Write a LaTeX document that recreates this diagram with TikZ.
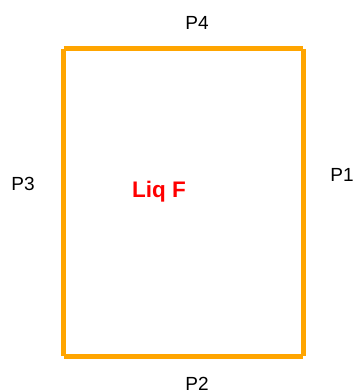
\documentclass[tikz,border=0pt]{standalone}
\usepackage{fontspec}
\setmainfont{Liberation Sans}
\definecolor{wallorange}{RGB}{255,165,0}
\definecolor{liqred}{RGB}{255,0,0}
\usetikzlibrary{positioning,calc}

\begin{document}
\begin{tikzpicture}[x=1pt,y=1pt,
        wall/.style={draw=wallorange,line width=5pt,line cap=butt},
        portlabel/.style={font=\fontsize{19}{22}\selectfont,text=black,inner sep=0pt}]
    \useasboundingbox (0,0) rectangle (355,-390);
    % corners of the tank
    \coordinate (tl) at (63.5,-49);
    \coordinate (tr) at (303,-49);
    \coordinate (br) at (303,-356);
    \coordinate (bl) at (63.5,-356);
    % the four walls
    \draw[wall] (tr) -- (br);
    \draw[wall] (br) -- (bl);
    \draw[wall] (bl) -- (tl);
    \draw[wall] (tl) -- (tr);
    % port labels
    \node[portlabel] (p1) at (342,-175) {P1};
    \node[portlabel] (p2) at (197,-384) {P2};
    \node[portlabel] (p3) at (23,-184) {P3};
    \node[portlabel] (p4) at (197,-23) {P4};
    \node[font=\fontsize{22.5}{26}\selectfont\bfseries,text=liqred,
          inner sep=0pt,anchor=base] (liq) at (159,-197) {Liq F};
\end{tikzpicture}
\end{document}
